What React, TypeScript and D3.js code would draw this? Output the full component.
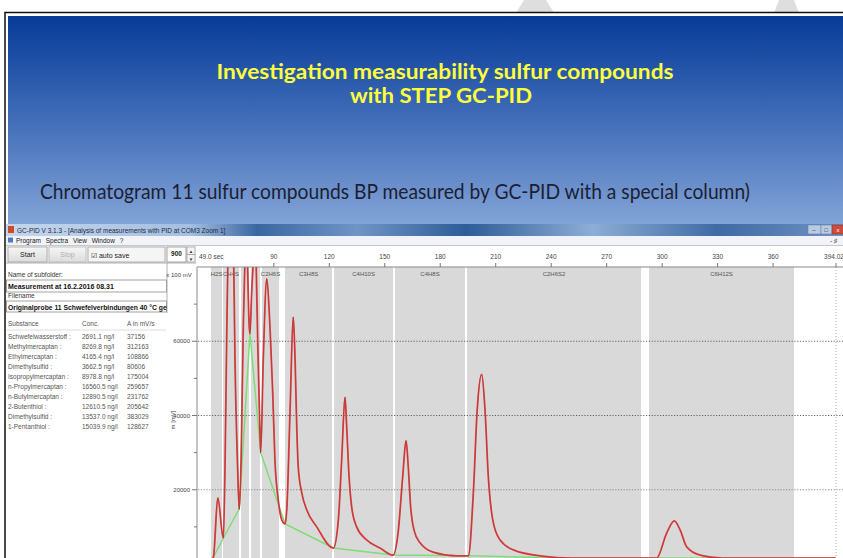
import React from "react";
import * as d3 from "d3";

const W = 843;
const H = 558;

// retention time axis (s) and signal axis (x 100 mV)
const timeStart = 49.0;
const timeEnd = 394.02;
const timeTicks = [90, 120, 150, 180, 210, 240, 270, 300, 330, 360];
const signalTicks = [20000, 40000, 60000];
const signalMinorTicks = [10000, 30000, 50000, 70000];

// integration windows
const windowNames = ["H2S", "CH4S", "", "", "C2H6S", "C3H8S", "C4H10S", "C4H8S", "C2H6S2", "C6H12S"];
const windowStart = [56.0, 62.5, 72.3, 77.7, 83.6, 96.1, 122.6, 155.5, 194.5, 292.9];
const windowEnd = [62.0, 71.2, 76.6, 82.5, 92.8, 121.5, 154.5, 193.4, 288.6, 371.3];

// chromatogram (red)
const traceTime = [
  52.8, 57.3, 59.7, 62.7, 63.6, 64.5, 65.4, 66.8, 68.1, 69.0, 70.3, 71.3, 72.3, 73.5, 74.4, 75.0,
  75.7, 76.7, 77.1, 78.0, 78.9, 79.6, 80.4, 81.3, 82.2, 82.9, 84.3, 86.2, 87.9, 89.4, 90.6, 92.4,
  94.3, 96.1, 97.0, 98.8, 100.5, 101.5, 102.4, 103.2, 105.1, 107.8, 113.2, 122.2, 124.9, 126.7,
  128.5, 129.4, 130.7, 132.1, 134.8, 140.2, 147.4, 154.5, 157.2, 159.7, 161.5, 162.7, 164.0, 165.8,
  169.1, 176.1, 188.9, 195.2, 197.9, 200.0, 202.4, 204.2, 206.0, 208.4, 212.3, 219.5, 233.9, 251.8,
  297.0, 302.5, 306.6, 309.7, 313.3, 320.5, 332.9, 394.0,
];
const traceSignal = [
  0, 1800, 17800, 7000, 26000, 60000, 88000, 100000, 88000, 55000, 28000, 14800, 28000, 64000, 82000, 92000,
  82000, 64000, 62000, 73000, 82000, 92000, 82000, 59700, 41600, 30000, 55100, 76800, 64000, 46200, 28100, 17300,
  11900, 10800, 14600, 41600, 66500, 55100, 37000, 26200, 19200, 14600, 10000, 4300, 11900, 28100,
  44900, 37000, 23500, 15400, 10000, 6500, 4300, 2400, 8400, 23500, 33200, 26200, 15400, 9200,
  5700, 3200, 2200, 2200, 19200, 41600, 51100, 41600, 23500, 11900, 6500, 3800, 2200, 1600,
  1600, 8400, 11600, 9200, 4600, 2400, 1600, 1600,
];

// baseline (green)
const baselineTime = [57.3, 62.7, 71.3, 77.1, 82.9, 96.1, 122.2, 154.5, 195.2, 251.8, 297.0, 394.0];
const baselineSignal = [1800, 7000, 14800, 62000, 30000, 10800, 4300, 2400, 2200, 1600, 1600, 1600];

// results table
const substances = [
  "Schwefelwasserstoff :", "Methylmercaptan :", "Ethylmercaptan :", "Dimethylsulfid :", "Isopropylmercaptan :",
  "n-Propylmercaptan :", "n-Butylmercaptan :", "2-Butenthiol :", "Dimethylsulfid :", "1-Pentanthiol :",
];
const concentrations = [
  "2691.1 ng/l", "8269.8 ng/l", "4165.4 ng/l", "3662.5 ng/l", "8978.8 ng/l",
  "16560.5 ng/l", "12890.5 ng/l", "12610.5 ng/l", "13537.0 ng/l", "15039.9 ng/l",
];
const areas = ["37156", "312163", "108866", "80606", "175004", "259657", "231762", "205642", "383029", "128627"];

const ui = "'Liberation Sans', Arial, sans-serif";
const slideFont = "Lato, 'Open Sans', sans-serif";

const App = () => {
  const x = d3.scaleLinear().domain([timeStart, timeEnd]).range([198, 836]);
  const y = d3.scaleLinear().domain([0, 80000]).range([564, 267]);
  const plotTop = 267;

  const trace = d3
    .line<number>()
    .x((_, i) => x(traceTime[i]))
    .y((d) => y(d))
    .curve(d3.curveMonotoneX)(traceSignal);

  const baseline = d3
    .line<number>()
    .x((_, i) => x(baselineTime[i]))
    .y((d) => y(d))(baselineSignal);

  return (
    <div style={{ position: "absolute", left: 0, top: 0 }}>
      <svg width={W} height={H} style={{ display: "block", background: "#fff" }}>
        <defs>
          <linearGradient id="slideBg" x1="0" y1="0" x2="0" y2="1">
            <stop offset="0%" stopColor="#073b97" />
            <stop offset="45%" stopColor="#3c69b6" />
            <stop offset="100%" stopColor="#83a4d6" />
          </linearGradient>
          <linearGradient id="titleBar" x1="0" y1="0" x2="1" y2="0">
            <stop offset="0%" stopColor="#c5d6ec" />
            <stop offset="22%" stopColor="#a4bfe0" />
            <stop offset="30%" stopColor="#3a67a2" />
            <stop offset="42%" stopColor="#6f95c6" />
            <stop offset="55%" stopColor="#2e5c97" />
            <stop offset="70%" stopColor="#8caed6" />
            <stop offset="85%" stopColor="#3f6aa4" />
            <stop offset="100%" stopColor="#6f93c4" />
          </linearGradient>
          <linearGradient id="btn" x1="0" y1="0" x2="0" y2="1">
            <stop offset="0%" stopColor="#f6f6f6" />
            <stop offset="100%" stopColor="#dcdcdc" />
          </linearGradient>
          <clipPath id="plotClip">
            <rect x={198} y={plotTop} width={W - 198} height={H - plotTop} />
          </clipPath>
          <clipPath id="panelClip">
            <rect x={6} y={262} width={161} height={60} />
          </clipPath>
        </defs>

        {/* watermark fragments above the slide */}
        <path d="M516,13 L524,0 L546,0 L554,13 Z" fill="#dedede" />
        <path d="M774,13 L779,0 L794,0 L799,13 Z" fill="#dedede" />

        {/* slide */}
        <rect x={5} y={12.5} width={850} height={560} fill="#fff" stroke="#111" strokeWidth={1.5} />
        <rect x={8} y={16} width={845} height={210} fill="url(#slideBg)" />

        <text x={445} y={79} textAnchor="middle" fill="#ffff3c" fontFamily={slideFont} fontWeight={700}
          fontSize={20} textLength={457} lengthAdjust="spacingAndGlyphs">
          Investigation measurability sulfur compounds
        </text>
        <text x={441} y={103} textAnchor="middle" fill="#ffff3c" fontFamily={slideFont} fontWeight={700}
          fontSize={20} textLength={182} lengthAdjust="spacingAndGlyphs">
          with STEP GC-PID
        </text>
        <text x={40} y={199} fill="#1c1f33" fontFamily={slideFont} fontSize={21} textLength={710}
          lengthAdjust="spacingAndGlyphs">
          Chromatogram 11 sulfur compounds BP measured by GC-PID with a special column)
        </text>

        {/* application window */}
        <rect x={6} y={224} width={W - 6} height={H - 224} fill="#f0f0f0" />
        <rect x={6} y={224} width={W - 6} height={12} fill="url(#titleBar)" />
        <rect x={8} y={226} width={6} height={7} fill="#d04a2a" />
        <text x={17} y={232.5} fontFamily={ui} fontSize={6.5} fill="#1b2a44">
          GC-PID V 3.1.3 - [Analysis of measurements with PID at COM3 Zoom 1]
        </text>
        <rect x={808} y={225} width={13} height={9} fill="#b9cbe3" stroke="#5a7aa5" strokeWidth={0.5} />
        <rect x={821} y={225} width={11} height={9} fill="#b9cbe3" stroke="#5a7aa5" strokeWidth={0.5} />
        <rect x={832} y={225} width={14} height={9} fill="#cf4a3c" stroke="#8a2a22" strokeWidth={0.5} />
        <text x={814} y={232} fontFamily={ui} fontSize={6} textAnchor="middle" fill="#222">–</text>
        <text x={826} y={232} fontFamily={ui} fontSize={6} textAnchor="middle" fill="#222">□</text>
        <text x={838} y={232} fontFamily={ui} fontSize={6} textAnchor="middle" fill="#fff">x</text>

        {/* menu bar */}
        <rect x={6} y={236} width={W - 6} height={9} fill="#f1f3f9" />
        <rect x={8} y={237.5} width={5} height={5} fill="#4a7cc0" />
        <text x={16} y={243} fontFamily={ui} fontSize={6.5} fill="#222" wordSpacing={3}>
          Program Spectra View Window ?
        </text>
        <text x={830} y={243} fontFamily={ui} fontSize={6.5} fill="#444">- ♯</text>
        <line x1={6} y1={245.5} x2={W} y2={245.5} stroke="#c8c8c8" />

        {/* toolbar */}
        <rect x={8} y={247} width={39} height={15} fill="url(#btn)" stroke="#a0a0a0" strokeWidth={0.8} />
        <text x={27.5} y={257} textAnchor="middle" fontFamily={ui} fontSize={7} fill="#222">Start</text>
        <rect x={49} y={247} width={37} height={15} fill="url(#btn)" stroke="#b8b8b8" strokeWidth={0.8} />
        <text x={67.5} y={257} textAnchor="middle" fontFamily={ui} fontSize={7} fill="#b0b0b0">Stop</text>
        <rect x={88} y={247} width={77} height={15} fill="#f5f5f5" stroke="#a0a0a0" strokeWidth={0.8} />
        <text x={91} y={257.5} fontFamily={ui} fontSize={7} fill="#222">☑ auto save</text>
        <rect x={167} y={247} width={19} height={15} fill="#fff" stroke="#909090" strokeWidth={0.8} />
        <text x={176.5} y={256} textAnchor="middle" fontFamily={ui} fontSize={6.5} fontWeight={700} fill="#222">900</text>
        <rect x={187} y={247} width={8} height={7.5} fill="#f4f4f4" stroke="#909090" strokeWidth={0.6} />
        <rect x={187} y={254.5} width={8} height={7.5} fill="#f4f4f4" stroke="#909090" strokeWidth={0.6} />
        <text x={191} y={253} textAnchor="middle" fontFamily={ui} fontSize={4.5} fill="#333">▲</text>
        <text x={191} y={260.5} textAnchor="middle" fontFamily={ui} fontSize={4.5} fill="#333">▼</text>

        {/* left result panel */}
        <rect x={6} y={263} width={190} height={H - 263} fill="#fff" />
        <line x1={6} y1={263} x2={196} y2={263} stroke="#a0a0a0" strokeWidth={0.8} />
        <line x1={167} y1={263} x2={167} y2={313} stroke="#a0a0a0" strokeWidth={0.8} />
        <g clipPath="url(#panelClip)" fontFamily={ui} fill="#333">
          <text x={8} y={277} fontSize={6.5}>Name of subfolder:</text>
          <rect x={6.5} y={280} width={160} height={12} fill="#fff" stroke="#8a8a8a" strokeWidth={0.8} />
          <text x={8} y={289} fontSize={7} fontWeight={700} fill="#111">Measurement at 16.2.2016 08.31</text>
          <text x={8} y={298} fontSize={6.5}>Filename</text>
          <rect x={6.5} y={301} width={160} height={11} fill="#fff" stroke="#8a8a8a" strokeWidth={0.8} />
          <text x={8} y={309.5} fontSize={6.8} fontWeight={700} fill="#111">
            Originalprobe 11 Schwefelverbindungen 40 °C geheizt 2
          </text>
        </g>
        <g fontFamily={ui} fontSize={6.5} fill="#555">
          <text x={8} y={325.5}>Substance</text>
          <text x={82} y={325.5}>Conc.</text>
          <text x={127} y={325.5}>A in mV/s</text>
          <line x1={7} y1={330} x2={166} y2={330} stroke="#c8c8c8" strokeWidth={0.6} />
          {substances.map((s, i) => (
            <g key={s + i}>
              <text x={8} y={339 + i * 10}>{s}</text>
              <text x={82} y={339 + i * 10}>{concentrations[i]}</text>
              <text x={127} y={339 + i * 10}>{areas[i]}</text>
            </g>
          ))}
        </g>

        {/* plot area */}
        <rect x={196} y={246} width={W - 196} height={H - 246} fill="#fff" />
        <g clipPath="url(#plotClip)">
          {windowStart.map((s, i) => (
            <rect key={"w" + i} x={x(s)} y={plotTop} width={x(windowEnd[i]) - x(s)} height={H - plotTop}
              fill="#d9d9d9" />
          ))}
          {windowNames.map((n, i) => (
            <text key={"n" + i} x={(x(windowStart[i]) + x(windowEnd[i])) / 2} y={276} textAnchor="middle"
              fontFamily={ui} fontSize={6} fill="#555">{n}</text>
          ))}
          {signalTicks.map((v) => (
            <line key={"g" + v} x1={198} x2={W} y1={y(v)} y2={y(v)} stroke={v === 20000 ? "#8a8a8a" : "#555"}
              strokeWidth={v === 20000 ? 1.2 : 0.9} strokeDasharray="1.2,1.6" />
          ))}
          <line x1={x(timeEnd)} x2={x(timeEnd)} y1={plotTop} y2={H} stroke="#999" strokeWidth={0.8}
            strokeDasharray="1,2" />
          <path d={baseline ?? ""} fill="none" stroke="#7fdc78" strokeWidth={1.5} />
          <path d={trace ?? ""} fill="none" stroke="#e44848" strokeWidth={1.8} strokeLinejoin="round" />
          <path d={trace ?? ""} fill="none" stroke="#9c3030" strokeWidth={0.55} strokeLinejoin="round" />
        </g>

        {/* time axis along the top */}
        <line x1={197} x2={W} y1={plotTop} y2={plotTop} stroke="#8a8a8a" strokeWidth={1.2} />
        <text x={199} y={259} fontFamily={ui} fontSize={6.5} fill="#444">49.0 sec</text>
        {timeTicks.map((t) => (
          <g key={"t" + t}>
            <line x1={x(t)} x2={x(t)} y1={plotTop - 4} y2={plotTop} stroke="#777" />
            <text x={x(t)} y={259} textAnchor="middle" fontFamily={ui} fontSize={6.5} fill="#444">{t}</text>
          </g>
        ))}
        <line x1={x(timeEnd)} x2={x(timeEnd)} y1={plotTop - 4} y2={plotTop} stroke="#777" />
        <text x={x(timeEnd) - 2} y={259} textAnchor="middle" fontFamily={ui} fontSize={6.5} fill="#444">
          {timeEnd.toFixed(2)}
        </text>

        {/* signal axis */}
        <line x1={197} x2={197} y1={plotTop} y2={H} stroke="#8a8a8a" strokeWidth={1} />
        <text x={179} y={277} textAnchor="middle" fontFamily={ui} fontSize={6} fill="#444">x 100 mV</text>
        {signalTicks.map((v) => (
          <g key={"s" + v}>
            <line x1={192} x2={197} y1={y(v)} y2={y(v)} stroke="#777" />
            <text x={190} y={y(v) + 2} textAnchor="end" fontFamily={ui} fontSize={6} fill="#444">{v}</text>
          </g>
        ))}
        {signalMinorTicks.map((v) => (
          <line key={"m" + v} x1={194} x2={197} y1={y(v)} y2={y(v)} stroke="#777" />
        ))}
        <text transform="translate(175,420) rotate(-90)" textAnchor="middle" fontFamily={ui} fontSize={6}
          fill="#444">m [mV]</text>
      </svg>
    </div>
  );
};

export default App;
